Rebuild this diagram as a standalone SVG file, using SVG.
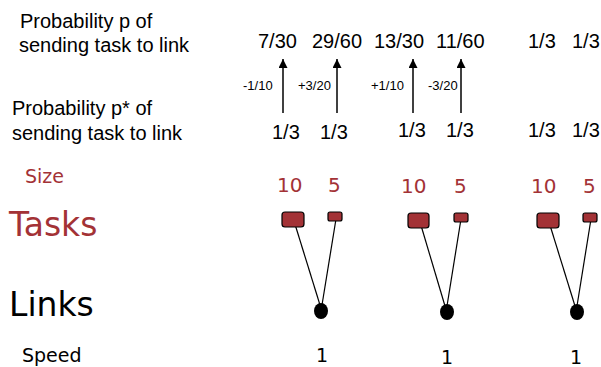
<svg xmlns="http://www.w3.org/2000/svg" width="601" height="367" viewBox="0 0 601 367">
<style>
.lbl{font-family:"Liberation Sans",Arial,sans-serif;font-size:20px;fill:#000}
.num{font-family:"Liberation Sans",Arial,sans-serif;font-size:20px;fill:#000}
.delta{font-family:"Liberation Sans",Arial,sans-serif;font-size:13px;fill:#000}
.red{fill:#a33236}
.dv{font-family:"DejaVu Sans",Verdana,sans-serif}
.task{fill:#a33236;stroke:#000;stroke-width:1.2}
.link{fill:#000}
.edge{stroke:#000;stroke-width:1.2;fill:none}
.arr{stroke:#000;stroke-width:1.5;fill:none;marker-end:url(#ah)}
</style>
<defs>
<marker id="ah" markerUnits="userSpaceOnUse" markerWidth="10" markerHeight="10" refX="9" refY="4.5" orient="auto">
<path d="M0,0 L9,4.5 L0,9 Z" fill="#000"/>
</marker>
</defs>
<rect width="601" height="367" fill="#fff"/>
<g id="labels">
<text class="lbl" x="20" y="28">Probability p of</text>
<text class="lbl" x="19" y="52">sending task to link</text>
<text class="lbl" x="12" y="115">Probability p* of</text>
<text class="lbl" x="12" y="140">sending task to link</text>
<text class="dv red" x="25" y="183" font-size="19">Size</text>
<text class="dv red" x="9" y="236" font-size="33">Tasks</text>
<text class="dv" x="9" y="316" font-size="33">Links</text>
<text class="dv" x="22" y="362" font-size="19">Speed</text>
</g>
<g id="probabilities">
<text class="num" x="258" y="48">7/30</text>
<text class="num" x="312" y="48">29/60</text>
<text class="num" x="374" y="48">13/30</text>
<text class="num" x="436" y="48">11/60</text>
<text class="num" x="528" y="48">1/3</text>
<text class="num" x="572" y="48">1/3</text>
<text class="num" x="272" y="139">1/3</text>
<text class="num" x="320" y="139">1/3</text>
<text class="num" x="398" y="137">1/3</text>
<text class="num" x="446" y="137">1/3</text>
<text class="num" x="528" y="137">1/3</text>
<text class="num" x="572" y="137">1/3</text>
<text class="delta" x="243" y="90">-1/10</text>
<text class="delta" x="298" y="90">+3/20</text>
<text class="delta" x="371" y="90">+1/10</text>
<text class="delta" x="428" y="90">-3/20</text>
</g>
<g id="connectors">
<line class="arr" x1="283" y1="113" x2="283" y2="59"/>
<line class="arr" x1="337" y1="113" x2="337" y2="59"/>
<line class="arr" x1="413" y1="113" x2="413" y2="59"/>
<line class="arr" x1="461" y1="113" x2="461" y2="59"/>
<line class="edge" x1="294" y1="221" x2="320" y2="305"/>
<line class="edge" x1="336" y1="219" x2="322" y2="305"/>
<line class="edge" x1="420" y1="222" x2="445" y2="306"/>
<line class="edge" x1="461" y1="219" x2="447" y2="306"/>
<line class="edge" x1="549" y1="222" x2="575" y2="306"/>
<line class="edge" x1="591" y1="219" x2="577" y2="306"/>
</g>
<g id="task1a"><text class="dv red" x="277" y="192" font-size="20">10</text><rect class="task" x="282" y="212" width="22" height="15" rx="3"/></g>
<g id="task1b"><text class="dv red" x="328" y="192" font-size="20">5</text><rect class="task" x="328" y="212" width="14" height="9" rx="2"/></g>
<g id="task2a"><text class="dv red" x="401" y="193" font-size="20">10</text><rect class="task" x="408" y="213" width="21" height="15" rx="3"/></g>
<g id="task2b"><text class="dv red" x="454" y="193" font-size="20">5</text><rect class="task" x="454" y="213" width="14" height="9" rx="2"/></g>
<g id="task3a"><text class="dv red" x="531" y="193" font-size="20">10</text><rect class="task" x="537" y="213" width="22" height="15" rx="3"/></g>
<g id="task3b"><text class="dv red" x="583" y="193" font-size="20">5</text><rect class="task" x="583" y="213" width="14" height="9" rx="2"/></g>
<g id="link1"><ellipse class="link" cx="321" cy="311" rx="7" ry="8"/><text class="dv" x="316" y="362" font-size="19">1</text></g>
<g id="link2"><ellipse class="link" cx="447" cy="312" rx="7" ry="8"/><text class="dv" x="441" y="364" font-size="19">1</text></g>
<g id="link3"><ellipse class="link" cx="577" cy="312" rx="7" ry="8"/><text class="dv" x="570" y="364" font-size="19">1</text></g>
</svg>
